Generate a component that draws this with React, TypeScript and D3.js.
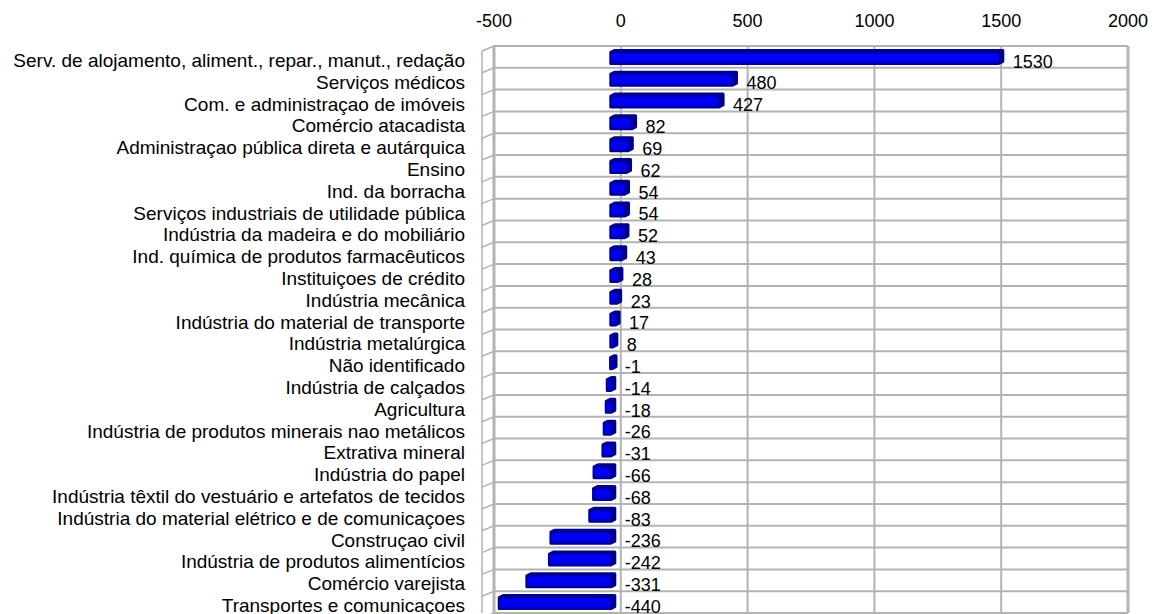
import React from 'react';
import * as d3 from 'd3';

const categories = [
  'Serv. de alojamento, aliment., repar., manut., redação',
  'Serviços médicos',
  'Com. e administraçao de imóveis',
  'Comércio atacadista',
  'Administraçao pública direta e autárquica',
  'Ensino',
  'Ind. da borracha',
  'Serviços industriais de utilidade pública',
  'Indústria da madeira e do mobiliário',
  'Ind. química de produtos farmacêuticos',
  'Instituiçoes de crédito',
  'Indústria mecânica',
  'Indústria do material de transporte',
  'Indústria metalúrgica',
  'Não identificado',
  'Indústria de calçados',
  'Agricultura',
  'Indústria de produtos minerais nao metálicos',
  'Extrativa mineral',
  'Indústria do papel',
  'Indústria têxtil do vestuário e artefatos de tecidos',
  'Indústria do material elétrico e de comunicaçoes',
  'Construçao civil',
  'Indústria de produtos alimentícios',
  'Comércio varejista',
  'Transportes e comunicaçoes',
];

const values = [1530, 480, 427, 82, 69, 62, 54, 54, 52, 43, 28, 23, 17, 8, -1, -14, -18, -26, -31, -66, -68, -83, -236, -242, -331, -440];

const xTicks = [-500, 0, 500, 1000, 1500, 2000];

const W = 1152;
const H = 614;
const font = '"Liberation Sans", Arial, sans-serif';

export default function App() {
  // back wall
  const left = 494;
  const right = 1128;
  const top = 46;
  const bottom = 613;
  const depthX = 12; // left wall depth
  const depthY = 5;

  const x = d3.scaleLinear().domain([-500, 2000]).range([left, right]);
  const y = d3.scaleBand<string>().domain(categories).range([top, bottom]).padding(0);

  const barH = 11;
  const shiftX = -10; // bars sit in front of the wall
  const ext = { dx: 4, dy: -2 };
  const grid = '#b3b3b3';

  const rowLines = d3.range(categories.length + 1).map(i => top + i * y.step());

  return (
    <svg width={W} height={H} style={{ position: 'absolute', left: 0, top: 0, background: '#fff' }} fontFamily={font}>
      <defs>
        <linearGradient id="barFront" x1="0" y1="0" x2="0" y2="1">
          <stop offset="0%" stopColor="#0000b0" />
          <stop offset="20%" stopColor="#0000fa" />
          <stop offset="78%" stopColor="#0000ee" />
          <stop offset="100%" stopColor="#0000b4" />
        </linearGradient>
      </defs>

      {/* top tick labels */}
      {xTicks.map(t => (
        <text key={t} x={x(t)} y={22} textAnchor="middle" dominantBaseline="middle" fontSize={18} fill="#000">
          {t}
        </text>
      ))}

      {/* vertical grid lines on back wall */}
      {xTicks.map(t => (
        <line key={'v' + t} x1={x(t)} x2={x(t)} y1={top} y2={bottom} stroke={grid}
          strokeWidth={t === -500 || t === 2000 ? 3 : 2} />
      ))}

      {/* horizontal grid lines + left wall */}
      {rowLines.map((ry, i) => (
        <g key={'h' + i}>
          <line x1={left - 1} x2={right} y1={ry} y2={ry} stroke={grid} strokeWidth={2} />
          <line x1={left - depthX} x2={left} y1={ry + depthY} y2={ry} stroke={grid} strokeWidth={1.5} />
        </g>
      ))}
      <line x1={left - depthX} x2={left - depthX} y1={top + depthY} y2={bottom} stroke={grid} strokeWidth={1.5} />

      {/* bars */}
      {values.map((v, i) => {
        const cy = (y(categories[i]) as number) + y.bandwidth() / 2 + 1;
        const x0 = x(Math.min(0, v)) + shiftX;
        const x1 = Math.max(x(Math.max(0, v)) + shiftX, x0 + 1.5);
        const y0 = cy - barH / 2;
        const y1 = cy + barH / 2;
        const hull = [
          [x0, y0], [x0 + ext.dx, y0 + ext.dy], [x1 + ext.dx, y0 + ext.dy],
          [x1 + ext.dx, y1 + ext.dy], [x1, y1], [x0, y1],
        ].map(p => p.join(',')).join(' ');
        const w = x1 - x0;
        return (
          <g key={'b' + i}>
            <polygon points={hull} fill="#000090" stroke="#000090" strokeWidth={3} strokeLinejoin="round" />
            <rect x={x0} y={y0} width={w} height={barH} rx={Math.min(5, w / 2)} fill="url(#barFront)" />
          </g>
        );
      })}

      {/* value labels */}
      {values.map((v, i) => {
        const cy = (y(categories[i]) as number) + y.bandwidth() / 2;
        return (
          <text key={'l' + i} x={x(Math.max(0, v)) + 4} y={cy + 6} dominantBaseline="middle" fontSize={18} fill="#000">
            {v}
          </text>
        );
      })}

      {/* category labels */}
      {categories.map((c, i) => {
        const cy = (y(c) as number) + y.bandwidth() / 2;
        return (
          <text key={'c' + i} x={465} y={cy + 5} textAnchor="end" dominantBaseline="middle" fontSize={19} fill="#000">
            {c}
          </text>
        );
      })}
    </svg>
  );
}
